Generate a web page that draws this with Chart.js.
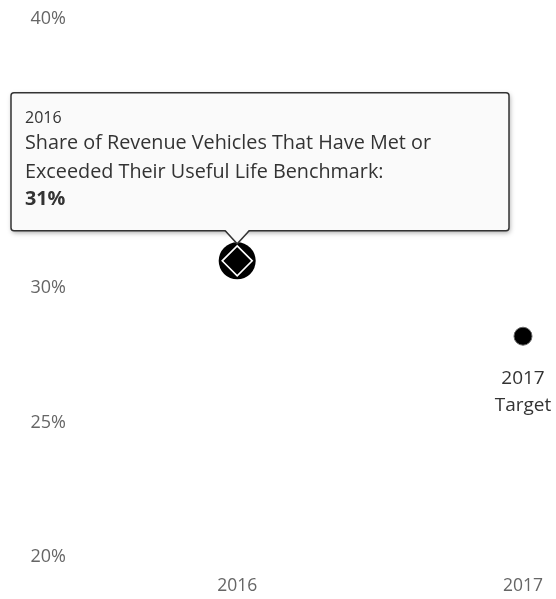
<!DOCTYPE html>
<html>
<head>
<meta charset="utf-8">
<script src="https://cdn.jsdelivr.net/npm/chart.js@4/dist/chart.umd.min.js"></script>
<style>
html,body{margin:0;padding:0;background:#fff;}
#wrap{position:relative;width:556px;height:599px;}
</style>
</head>
<body>
<div id="wrap"><canvas id="c" width="556" height="599"></canvas></div>
<script>
const years = [2016, 2017];
const shareValues = [31, 28.2];
const pointLabels = ["", "2017\nTarget"];
const yTicks = [20, 25, 30, 35, 40];
const seriesName = "Share of Revenue Vehicles That Have Met or Exceeded Their Useful Life Benchmark:";
const tooltipBodyLines = ["Share of Revenue Vehicles That Have Met or", "Exceeded Their Useful Life Benchmark:"];
const activeIndex = 0;

const FONT = "'Open Sans'";

const overlayPlugin = {
  id: 'overlay',
  afterDatasetsDraw(chart) {
    const ctx = chart.ctx;
    const meta = chart.getDatasetMeta(0);
    // data labels
    ctx.save();
    ctx.fillStyle = '#333';
    ctx.font = '19px ' + FONT;
    ctx.textAlign = 'center';
    ctx.textBaseline = 'middle';
    meta.data.forEach((el, i) => {
      const lines = pointLabels[i] ? pointLabels[i].split('\n') : [];
      lines.forEach((ln, k) => ctx.fillText(ln, el.x, el.y + 42 + k * 27));
    });
    ctx.restore();

    // active point diamond
    const p = meta.data[activeIndex];
    ctx.save();
    ctx.strokeStyle = '#fff';
    ctx.lineWidth = 1.6;
    const d = 15;
    ctx.beginPath();
    ctx.moveTo(p.x, p.y - d);
    ctx.lineTo(p.x + d, p.y);
    ctx.lineTo(p.x, p.y + d);
    ctx.lineTo(p.x - d, p.y);
    ctx.closePath();
    ctx.stroke();
    ctx.restore();

    // tooltip
    const bx = 11, bw = 498, bh = 138;
    const by = p.y - 30 - bh;
    const bBottom = by + bh;
    ctx.save();
    ctx.shadowColor = 'rgba(0,0,0,0.35)';
    ctx.shadowBlur = 5;
    ctx.shadowOffsetX = 1;
    ctx.shadowOffsetY = 2;
    ctx.fillStyle = '#fafafa';
    ctx.beginPath();
    ctx.roundRect(bx, by, bw, bh, 3);
    ctx.fill();
    ctx.restore();
    ctx.save();
    ctx.strokeStyle = '#333';
    ctx.lineWidth = 1.5;
    ctx.beginPath();
    ctx.roundRect(bx, by, bw, bh, 3);
    ctx.stroke();
    // caret
    const cw = 12, ch = 13;
    ctx.fillStyle = '#fafafa';
    ctx.beginPath();
    ctx.moveTo(p.x - cw, bBottom - 1);
    ctx.lineTo(p.x, bBottom + ch);
    ctx.lineTo(p.x + cw, bBottom - 1);
    ctx.closePath();
    ctx.fill();
    ctx.beginPath();
    ctx.moveTo(p.x - cw, bBottom);
    ctx.lineTo(p.x, bBottom + ch);
    ctx.lineTo(p.x + cw, bBottom);
    ctx.stroke();
    // texts
    ctx.textAlign = 'left';
    ctx.textBaseline = 'middle';
    ctx.fillStyle = '#333';
    ctx.font = '16px ' + FONT;
    ctx.fillText(String(years[activeIndex]), bx + 14, by + 26);
    ctx.font = '19.8px ' + FONT;
    tooltipBodyLines.forEach((ln, k) => ctx.fillText(ln, bx + 14, by + 51 + k * 29));
    ctx.font = 'bold 19.8px ' + FONT;
    ctx.fillText(shareValues[activeIndex] + '%', bx + 14, by + 107);
    ctx.restore();
  }
};

new Chart(document.getElementById('c'), {
  type: 'line',
  data: {
    datasets: [{
      label: seriesName,
      data: years.map((y, i) => ({ x: y, y: shareValues[i] })),
      showLine: false,
      clip: false,
      backgroundColor: '#000',
      borderColor: '#666',
      pointRadius: ctx => ctx.dataIndex === activeIndex ? 18.5 : 9,
      pointBorderWidth: ctx => ctx.dataIndex === activeIndex ? 0 : 1,
      pointHoverRadius: ctx => ctx.dataIndex === activeIndex ? 18.5 : 9
    }]
  },
  options: {
    responsive: false,
    animation: false,
    events: [],
    layout: { padding: { top: 18, right: 33, left: 0, bottom: 0 } },
    plugins: { legend: { display: false }, tooltip: { enabled: false } },
    scales: {
      x: {
        type: 'linear',
        min: 2015.45,
        max: 2017,
        grid: { display: false, drawTicks: false },
        border: { display: false },
        afterBuildTicks: axis => { axis.ticks = years.map(v => ({ value: v })); },
        afterFit: axis => { axis.height = 42; axis.paddingLeft = 0; axis.paddingRight = 0; },
        ticks: {
          padding: 19,
          color: '#666',
          font: { family: FONT, size: 17.5 },
          callback: v => String(v),
          maxRotation: 0
        }
      },
      y: {
        min: 20,
        max: 40,
        grid: { display: false, drawTicks: false },
        border: { display: false },
        afterBuildTicks: axis => { axis.ticks = yTicks.map(v => ({ value: v })); },
        afterFit: axis => { axis.width = 80; axis.paddingTop = 0; axis.paddingBottom = 0; },
        ticks: {
          padding: 14,
          color: '#666',
          font: { family: FONT, size: 18 },
          callback: v => v + '%'
        }
      }
    }
  },
  plugins: [overlayPlugin]
});
</script>
</body>
</html>
